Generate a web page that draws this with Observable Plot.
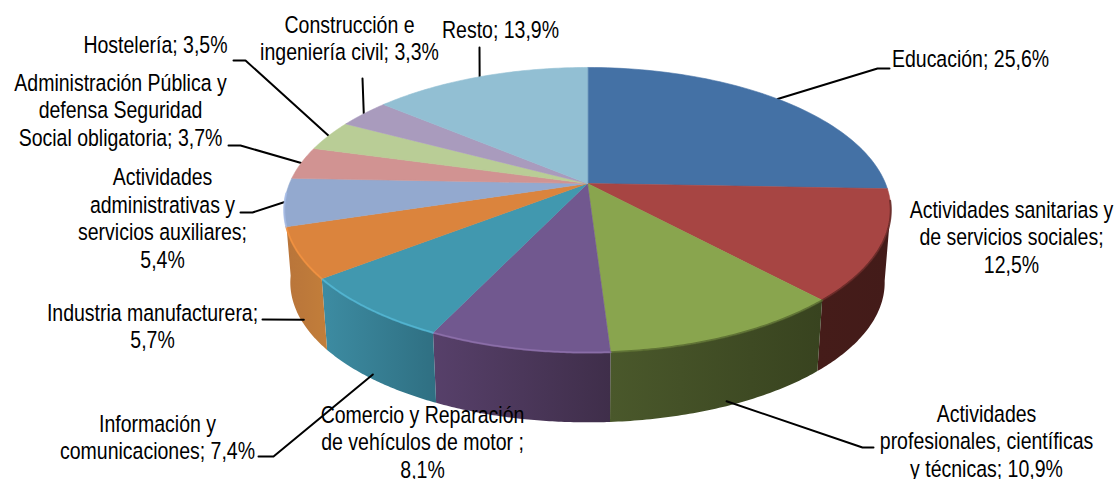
<!DOCTYPE html>
<html lang="es">
<head>
<meta charset="utf-8">
<script src="https://cdn.jsdelivr.net/npm/d3@7"></script>
<script src="https://cdn.jsdelivr.net/npm/@observablehq/plot@0.6"></script>
<style>html,body{margin:0;background:#fff}svg{display:block}</style>
</head>
<body>
<div id="chart"></div>
<script>
// Data, clockwise from twelve o'clock
const categories = ["Educación","Actividades sanitarias y de servicios sociales","Actividades profesionales, científicas y técnicas","Comercio y Reparación de vehículos de motor","Información y comunicaciones","Industria manufacturera","Actividades administrativas y servicios auxiliares","Administración Pública y defensa Seguridad Social obligatoria","Hostelería","Construcción e ingeniería civil","Resto"];
const shares = [25.6,12.5,10.9,8.1,7.4,5.7,5.4,3.7,3.5,3.3,13.9];
const labels = ["Educación; 25,6%","Actividades sanitarias y\nde servicios sociales;\n12,5%","Actividades\nprofesionales, científicas\ny técnicas; 10,9%","Comercio y Reparación\nde vehículos de motor ;\n8,1%","Información y\ncomunicaciones; 7,4%","Industria manufacturera;\n5,7%","Actividades\nadministrativas y\nservicios auxiliares;\n5,4%","Administración Pública y\ndefensa Seguridad\nSocial obligatoria; 3,7%","Hostelería; 3,5%","Construcción e\ningeniería civil; 3,3%","Resto; 13,9%"];

// Styling and layout
const topColors = ["#4471a5","#a74543","#89a54e","#71588f","#4198af","#db843d","#93a9cf","#d19392","#b9cd96","#a99bbd","#92bfd3"];
const wallStops = [null,["#451c19","#431b19"],["#4a582b","#38431f"],["#57406a","#3f2e4a"],["#3d8ca2","#2f6f82"],["#b8743a","#c27e3a"]];
const rimColors = [null,"#5e2422","#55662e","#8f70ad","#52b8d6","#f2913f","#a6bde8",null,null,null,null];
const labelX = [970,1011,986,422,157,152,162,120,155,349,500];
const labelY = [58,236,440,441,436,325,217,109,44,37,29];
// Leader elbows per slice (null when the label has no leader)
const leaderElbows = [[[877,68],[889,68]],null,[[862,447],[873,447]],null,[[273,456],[258,456]],[[262,319]],[[252,212],[240,212]],[[240,145],[228,145]],[[245,60],[233,60]],[[362,78]],[[479,47]]];
const leaderOnWall = [false,false,true,false,true,true,false,false,false,false,false];

// Perspective disc
const upper = {cx:587, cy:183, r:298, a:137.6};
const lower = {cx:587, cy:256, r:292, a:135};
const k = 0.186;
const wallFrom = 100, wallTo = 262;
const rimPoint = (d, deg) => {
  const t = deg * Math.PI / 180, w = 1 + k * Math.cos(t);
  return {x: d.cx + d.r * Math.sin(t) / w, y: d.cy - d.a * Math.cos(t) / w};
};
const arc = (d, a0, a1) => d3.range(0, 61).map(i => rimPoint(d, a0 + (a1 - a0) * i / 60));

const total = d3.sum(shares);
let running = 0;
const slices = shares.map((v, i) => {
  const a0 = running / total * 360; running += v;
  return {i, name: categories[i], a0, a1: running / total * 360, mid: (a0 + running / total * 360) / 2};
});

const faces = slices.map(s => Plot.line([{x: upper.cx, y: upper.cy}, ...arc(upper, s.a0, s.a1)],
  {x:"x", y:"y", fill: topColors[s.i], stroke: topColors[s.i], strokeWidth: 0.6, curve:"linear-closed"}));

const walls = slices.filter(s => wallStops[s.i]).map(s => {
  const a0 = Math.max(s.a0, wallFrom);
  const a1 = wallStops[s.i + 1] ? s.a1 : wallTo;
  return Plot.line([...arc(upper, a0, a1), ...arc(lower, a0, a1).reverse()],
    {x:"x", y:"y", fill:`url(#wall${s.i})`, stroke:"none", curve:"linear-closed"});
});

const rims = slices.filter(s => rimColors[s.i]).map(s => {
  const a0 = Math.max(s.a0, wallFrom - 3);
  const a1 = s.i === 6 ? Math.min(s.a1, wallTo + 4) : s.a1;
  return Plot.line(arc(upper, a0, a1), {x:"x", y:"y", stroke: rimColors[s.i], strokeWidth: 2, strokeOpacity: .8, curve:"linear"});
});

const leaders = slices.filter(s => leaderElbows[s.i]).map(s => {
  const t = rimPoint(upper, s.mid), b = rimPoint(lower, s.mid);
  const f = leaderOnWall[s.i] ? 0.93 : 0;
  const start = {x: t.x + (b.x - t.x) * f, y: t.y + (b.y - t.y) * f};
  const pts = [start, ...leaderElbows[s.i].map(([x, y]) => ({x, y}))];
  return Plot.line(pts, {x:"x", y:"y", stroke:"#000", strokeWidth: 2, curve:"linear"});
});

const defs = () => {
  const svgNS = "http://www.w3.org/2000/svg";
  const d = document.createElementNS(svgNS, "defs");
  wallStops.forEach((st, i) => {
    if (!st) return;
    const g = document.createElementNS(svgNS, "linearGradient");
    g.setAttribute("id", "wall" + i);
    st.forEach((c, j) => {
      const stop = document.createElementNS(svgNS, "stop");
      stop.setAttribute("offset", j);
      stop.setAttribute("stop-color", c);
      g.appendChild(stop);
    });
    d.appendChild(g);
  });
  return d;
};

// The reference's type is condensed
const condense = (index, scales, values, dimensions, context, next) => {
  const g = next(index, scales, values, dimensions, context);
  g.querySelectorAll("text").forEach(t => t.setAttribute("transform", (t.getAttribute("transform") || "") + " scale(.83,1)"));
  return g;
};

const chart = Plot.plot({
  width: 1118, height: 479, margin: 0,
  x: {domain: [0, 1118], axis: null},
  y: {domain: [0, 479], range: [0, 479], axis: null},
  style: {background: "#fff"},
  marks: [
    defs,
    ...walls,
    ...leaders,
    ...faces,
    ...rims,
    Plot.text(labels, {
      x: (d, i) => labelX[i], y: (d, i) => labelY[i], text: d => d,
      fontFamily: "Liberation Sans", fontSize: 23.5, lineHeight: 1.18,
      fill: "#000", textAnchor: "middle", render: condense
    })
  ]
});
document.getElementById("chart").appendChild(chart);
</script>
</body>
</html>
